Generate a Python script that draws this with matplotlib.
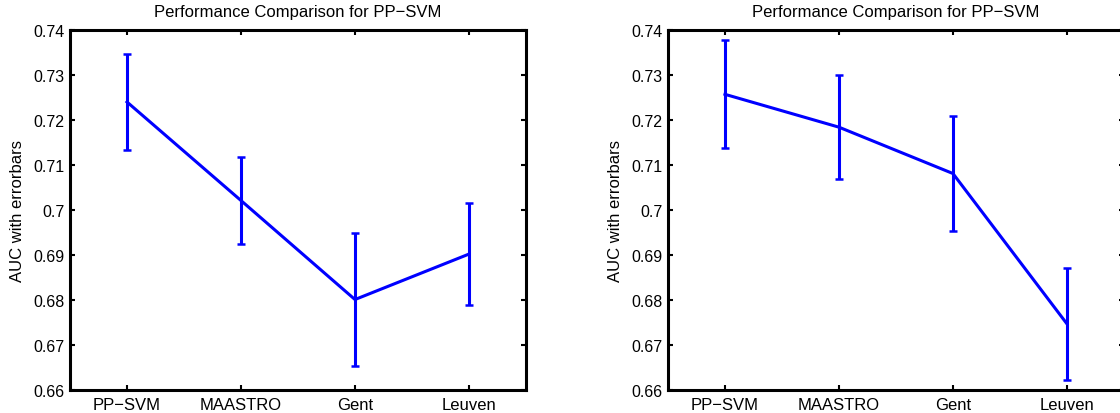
import matplotlib
matplotlib.use('Agg')
import matplotlib.pyplot as plt

plt.rcParams.update({
    'font.family': ['Liberation Sans', 'DejaVu Sans'],
    'xtick.direction': 'in', 'ytick.direction': 'in',
    'xtick.top': True, 'ytick.right': True,
    'xtick.major.size': 3.5, 'ytick.major.size': 3.5,
    'xtick.major.width': 1.5, 'ytick.major.width': 1.5,
})

# ── Data ──
methods = ['PP\u2212SVM', 'MAASTRO', 'Gent', 'Leuven']
auc_left = [0.7240, 0.7021, 0.6801, 0.6902]
err_left = [0.0107, 0.0096, 0.0147, 0.0113]
auc_right = [0.7257, 0.7184, 0.7081, 0.6747]
err_right = [0.0120, 0.0116, 0.0127, 0.0125]
yticks = [0.66, 0.67, 0.68, 0.69, 0.70, 0.71, 0.72, 0.73, 0.74]
ytick_labels = ['0.66', '0.67', '0.68', '0.69', '0.7', '0.71', '0.72', '0.73', '0.74']

fig = plt.figure(figsize=(11.2, 4.14), dpi=100)
# right panel runs slightly past the figure edge, as in the original export
ax_l = fig.add_axes([0.0625, 0.0556, 0.4071, 0.8696])
ax_r = fig.add_axes([0.5964, 0.0556, 0.4071, 0.8696])


def draw(ax, vals, errs):
    x = list(range(1, len(methods) + 1))
    ax.errorbar(x, vals, yerr=errs, color='#0000ff', linewidth=2.2,
                elinewidth=2.2, capsize=2.6, capthick=1.8)
    ax.set_xlim(0.5, 4.5)
    ax.set_ylim(0.66, 0.74)
    ax.set_xticks(x)
    ax.set_xticklabels(methods, fontsize=12)
    ax.set_yticks(yticks)
    ax.set_yticklabels(ytick_labels, fontsize=11.5)
    ax.tick_params(axis='x', pad=5)
    ax.tick_params(axis='y', pad=4)
    for s in ax.spines.values():
        s.set_linewidth(2.2)
    ax.set_title('Performance Comparison for PP\u2212SVM', fontsize=12, pad=10)
    ax.set_ylabel('AUC with errorbars', fontsize=12, labelpad=6)


draw(ax_l, auc_left, err_left)
draw(ax_r, auc_right, err_right)

fig.savefig('out.png', dpi=100)
